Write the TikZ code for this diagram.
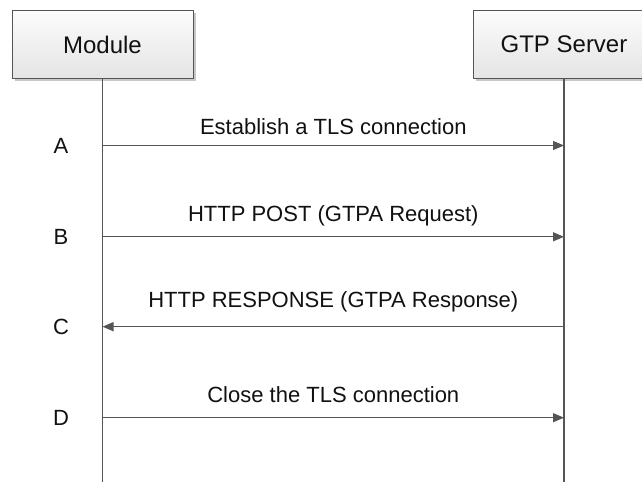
\documentclass[tikz,border=0pt]{standalone}
\usepackage{fontspec}
\setmainfont{Liberation Sans}
\usetikzlibrary{arrows.meta,shadows}
\definecolor{linegray}{HTML}{555555}
\definecolor{boxtop}{HTML}{FCFCFC}
\definecolor{boxbot}{HTML}{E4E4E4}
\definecolor{inkblack}{HTML}{111111}
\begin{document}
\begin{tikzpicture}[x=1pt,y=-1pt,
  actor/.style={draw=linegray, line width=1pt, top color=boxtop, bottom color=boxbot,
    minimum width=181pt, minimum height=67.5pt, inner sep=0pt,
    drop shadow={shadow xshift=2.5pt, shadow yshift=-2.5pt, fill=black, opacity=0.22},
    font=\fontsize{24}{28}\selectfont, text=inkblack},
  life/.style={draw=linegray, line width=1.2pt},
  msg/.style={draw=linegray, line width=1.2pt, -{Triangle[length=11pt,width=9pt]}},
  msglabel/.style={font=\fontsize{22}{26}\selectfont, anchor=base, inner sep=0pt, text=inkblack},
  steplabel/.style={font=\fontsize{22}{26}\selectfont, anchor=base, inner sep=0pt, text=inkblack}]
\useasboundingbox (0,0) rectangle (642,482);
\fill[white] (0,0) rectangle (642,482);

% participants and lifelines
\node[actor] (mod) at (102.5,44.5) {Module};
\node[actor] (srv) at (564,44.5) {GTP Server};
\coordinate (modend) at (102.5,482);
\coordinate (srvend) at (564,482);
\draw[life] (mod.south) -- (modend);
\draw[life] (srv.south) -- (srvend);

% message anchor points on the lifelines
\coordinate (mA) at (102.5,145.5); \coordinate (sA) at (564,145.5);
\coordinate (mB) at (102.5,236.8); \coordinate (sB) at (564,236.8);
\coordinate (mC) at (102.5,326.7); \coordinate (sC) at (564,326.7);
\coordinate (mD) at (102.5,417.7); \coordinate (sD) at (564,417.7);

% messages
\draw[msg] (mA) -- (sA);
\draw[msg] (mB) -- (sB);
\draw[msg] (sC) -- (mC);
\draw[msg] (mD) -- (sD);

% message labels
\node[msglabel] (lA) at (333.3,134.5) {Establish a TLS connection};
\node[msglabel] (lB) at (333.3,221.5) {HTTP POST (GTPA Request)};
\node[msglabel] (lC) at (333.3,307.5) {HTTP RESPONSE (GTPA Response)};
\node[msglabel] (lD) at (333.3,402.7) {Close the TLS connection};

% step letters
\node[steplabel] (tA) at (61,153.5) {A};
\node[steplabel] (tB) at (61,244.8) {B};
\node[steplabel] (tC) at (61,334.7) {C};
\node[steplabel] (tD) at (61,425.7) {D};
\end{tikzpicture}
\end{document}
